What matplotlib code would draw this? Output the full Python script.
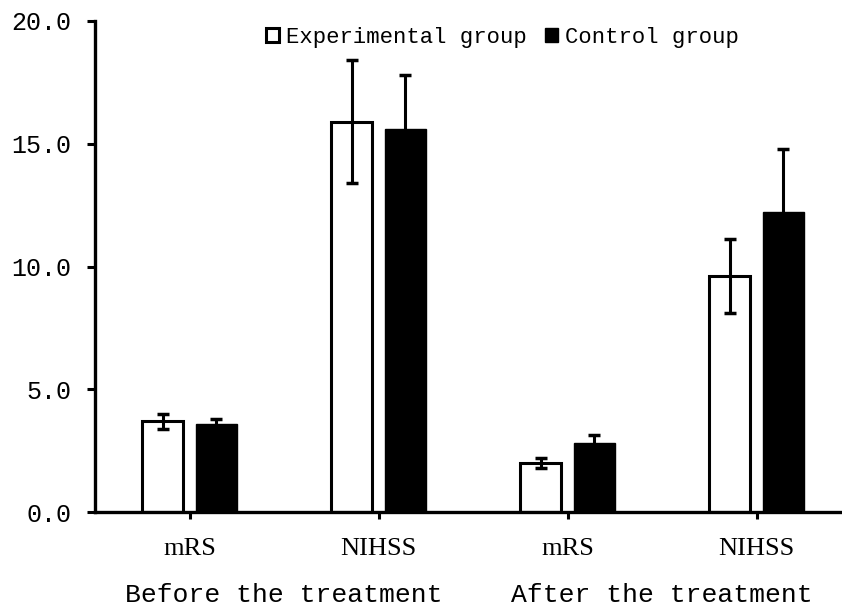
import matplotlib
matplotlib.use("Agg")
import matplotlib.pyplot as plt
import numpy as np
from matplotlib.patches import Patch

categories = ["mRS", "NIHSS", "mRS", "NIHSS"]
groups = ["Before the treatment", "After the treatment"]
exp_vals = [3.7, 15.9, 2.0, 9.6]
exp_err = [0.3, 2.5, 0.2, 1.5]
ctl_vals = [3.6, 15.6, 2.8, 12.2]
ctl_err = [0.2, 2.2, 0.35, 2.6]
yticks = [0, 5, 10, 15, 20]
ytick_labels = ["0.0", "5.0", "10.0", "15.0", "20.0"]

mono = "Liberation Mono"
serif = "Liberation Serif"

fig = plt.figure(figsize=(8.42, 6.10), dpi=100)
ax = fig.add_axes([95/842, 1-512/610, 1-95/842, (512-21)/610])

x = np.arange(len(categories))
w = 0.215
off = 0.142
ax.bar(x - off, exp_vals, w, color="white", edgecolor="black", linewidth=2.2, zorder=2)
ax.bar(x + off, ctl_vals, w, color="black", edgecolor="black", linewidth=1, zorder=2)
ax.errorbar(x - off, exp_vals, yerr=exp_err, fmt="none", ecolor="black",
            elinewidth=2.2, capsize=4, capthick=2.5, zorder=3)
ax.errorbar(x + off, ctl_vals, yerr=ctl_err, fmt="none", ecolor="black",
            elinewidth=2.2, capsize=4, capthick=2.5, zorder=3)

ax.set_xlim(-0.5, (842-95)/189 - 0.5)
ax.set_ylim(0, 20)
ax.set_yticks(yticks)
ax.set_yticklabels(ytick_labels, fontfamily=mono, fontsize=18)
ax.set_xticks(x)
ax.set_xticklabels([])
ax.tick_params(axis="y", direction="out", length=6, width=2.2, pad=11)
ax.tick_params(axis="x", direction="out", length=5, width=2.2)
for s in ["top", "right"]:
    ax.spines[s].set_visible(False)
for s in ["left", "bottom"]:
    ax.spines[s].set_linewidth(2.4)

for xi, c in zip(x, categories):
    ax.text(xi, -1.5, c, ha="center", va="center", fontfamily=serif, fontsize=19)
for gi, g in enumerate(groups):
    ax.text(2*gi + 0.5, -3.4, g, ha="center", va="center", fontfamily=mono, fontsize=19)

handles = [Patch(facecolor="white", edgecolor="black", linewidth=2.2),
           Patch(facecolor="black", edgecolor="black")]
leg = fig.legend(handles, ["Experimental group", "Control group"], ncol=2,
                 loc="center left", bbox_to_anchor=(266/842, 1-37/610),
                 frameon=False, prop={"family": mono, "size": 16},
                 handlelength=0.6, handleheight=0.6, handletextpad=0.3,
                 columnspacing=0.8, borderaxespad=0, borderpad=0)

fig.savefig("out.png", dpi=100)
